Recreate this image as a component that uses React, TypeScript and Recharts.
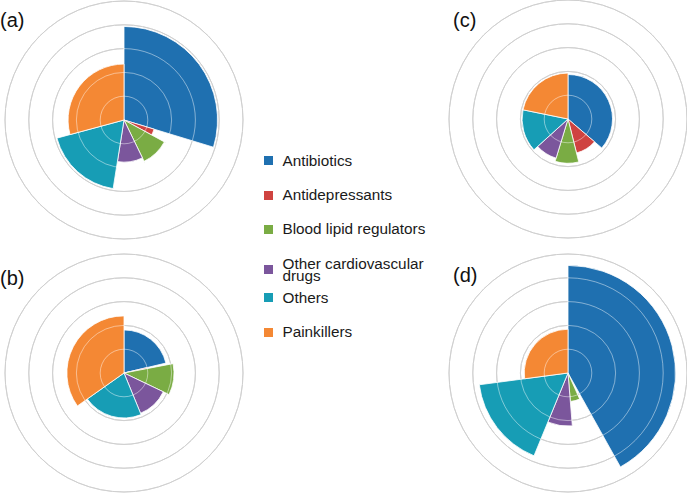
import { Cell, Pie, PieChart, PolarGrid } from "recharts";

const categories = [
  "Antibiotics",
  "Antidepressants",
  "Blood lipid regulators",
  "Other cardiovascular drugs",
  "Others",
  "Painkillers",
];
const colors = ["#1f70b0", "#cf4340", "#7aac44", "#7b569c", "#179db5", "#f48834"];

// angular share (% of the circle) and radial value per category
const angleShareA = [29.7, 3.2, 9.9, 9.7, 18.3, 29.2];
const radiusA = [3.93, 1.32, 1.93, 1.77, 2.92, 2.35];
const backdropA = [0, 2.96, 2.96, 2.96, 0, 0];

const angleShareB = [21.3, 0.7, 10.1, 11.7, 21.4, 34.8];
const radiusB = [1.81, 1.0, 2.1, 1.83, 1.89, 2.4];

const angleShareC = [36.3, 9.8, 8.6, 8.6, 14.9, 21.8];
const radiusC = [1.87, 1.47, 1.86, 1.72, 1.93, 1.93];

const angleShareD = [41.9, 1.4, 5.4, 7.5, 16.7, 27.1];
const radiusD = [4.52, 0, 1.2, 2.23, 3.76, 1.84];

const radiusTicks = [1, 2, 3, 4, 5];
const panelLabels = ["(a)", "(b)", "(c)", "(d)"];

const SIZE = 250;
const OUTER = 119;
const R_MAX = 5;
const rScale = (v: number) => (v / R_MAX) * OUTER;

function slices(shares: number[], i: number) {
  const total = shares.reduce((s, v) => s + v, 0);
  const before = shares.slice(0, i).reduce((s, v) => s + v, 0);
  return [
    { name: "before", value: before },
    { name: categories[i], value: shares[i] },
    { name: "after", value: Math.max(0, total - before - shares[i]) },
  ];
}

function Rose({
  shares,
  radii,
  backdrop,
  cx,
  cy,
}: {
  shares: number[];
  radii: number[];
  backdrop?: number[];
  cx: number;
  cy: number;
}) {
  const rings = radiusTicks.map(rScale);
  return (
    <div style={{ position: "absolute", left: cx - SIZE / 2, top: cy - SIZE / 2 }}>
      <PieChart width={SIZE} height={SIZE} margin={{ top: 0, right: 0, bottom: 0, left: 0 }}>
        <PolarGrid
          cx={SIZE / 2}
          cy={SIZE / 2}
          innerRadius={0}
          outerRadius={OUTER}
          gridType="circle"
          radialLines={false}
          polarAngles={[]}
          polarRadius={rings}
          stroke="#a9a9a9"
          strokeWidth={1}
          zIndex={-100}
        />
        {backdrop &&
          categories.map((c, i) =>
            backdrop[i] > 0 ? (
              <Pie
                key={"bg" + c}
                data={slices(shares, i)}
                dataKey="value"
                cx="50%"
                cy="50%"
                startAngle={90}
                endAngle={-270}
                innerRadius={0}
                outerRadius={rScale(backdrop[i])}
                stroke="none"
                legendType="none"
                isAnimationActive={false}
                zIndex={300}
              >
                <Cell fill="none" />
                <Cell fill="#ffffff" />
                <Cell fill="none" />
              </Pie>
            ) : null
          )}
        {categories.map((c, i) => (
          <Pie
            key={c}
            data={slices(shares, i)}
            dataKey="value"
            cx="50%"
            cy="50%"
            startAngle={90}
            endAngle={-270}
            innerRadius={0}
            outerRadius={rScale(radii[i])}
            stroke="none"
            legendType="none"
            isAnimationActive={false}
            zIndex={400}
          >
            <Cell fill="none" />
            <Cell fill={colors[i]} stroke="#ffffff" strokeWidth={0.8} />
            <Cell fill="none" />
          </Pie>
        ))}
        <PolarGrid
          cx={SIZE / 2}
          cy={SIZE / 2}
          innerRadius={0}
          outerRadius={OUTER}
          gridType="circle"
          radialLines={false}
          polarAngles={[]}
          polarRadius={rings}
          stroke="#ffffff"
          strokeOpacity={0.45}
          strokeWidth={1}
          zIndex={600}
        />
      </PieChart>
    </div>
  );
}

const labelStyle = {
  position: "absolute" as const,
  fontFamily: "Arial, 'Liberation Sans', sans-serif",
  fontSize: 20,
  lineHeight: "normal",
  color: "#111",
};

export default function App() {
  return (
    <div
      style={{
        position: "relative",
        width: 687,
        height: 493,
        overflow: "hidden",
        background: "#fff",
        fontFamily: "Arial, 'Liberation Sans', sans-serif",
      }}
    >
      <style>{"body{margin:0}"}</style>
      <Rose shares={angleShareA} radii={radiusA} backdrop={backdropA} cx={124} cy={120} />
      <Rose shares={angleShareB} radii={radiusB} cx={124} cy={373.3} />
      <Rose shares={angleShareC} radii={radiusC} cx={567.7} cy={119.3} />
      <Rose shares={angleShareD} radii={radiusD} cx={567.7} cy={373.3} />

      <div style={{ ...labelStyle, left: 0, top: 8.5 }}>{panelLabels[0]}</div>
      <div style={{ ...labelStyle, left: 0, top: 266.5 }}>{panelLabels[1]}</div>
      <div style={{ ...labelStyle, left: 453, top: 8.5 }}>{panelLabels[2]}</div>
      <div style={{ ...labelStyle, left: 453, top: 263.5 }}>{panelLabels[3]}</div>

      {categories.map((c, i) => (
        <div
          key={c}
          style={{
            position: "absolute",
            left: 264,
            top: 160.7 + 34.3 * i - 6,
            display: "flex",
            alignItems: "center",
            fontSize: 15.3,
            lineHeight: "12px",
            color: "#1a1a1a",
          }}
        >
          <span style={{ width: 9, height: 9, background: colors[i], flex: "none", marginRight: 9.5 }} />
          <span style={{ width: 165 }}>{c}</span>
        </div>
      ))}
    </div>
  );
}
